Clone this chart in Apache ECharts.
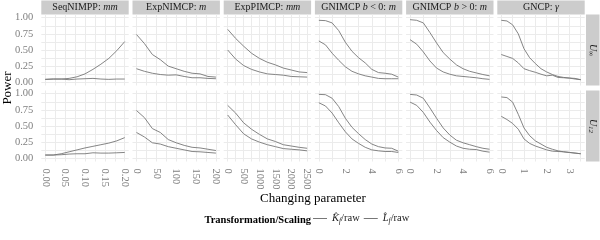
<!DOCTYPE html>
<html><head><meta charset="utf-8">
<script src="https://cdn.jsdelivr.net/npm/echarts@6/dist/echarts.min.js"></script>
<style>html,body{margin:0;padding:0;background:#fff}#c{width:600px;height:240px}</style>
</head><body><div id="c"></div>
<script>
// ---------- data ----------
const colTitles = ['{n|SeqNIMPP: }{i|mm}', '{n|ExpNIMCP: }{i|m}', '{n|ExpPIMCP: }{i|mm}',
  '{n|GNIMCP }{i|b}{n| < 0: }{i|m}', '{n|GNIMCP }{i|b}{n| > 0: }{i|m}', '{n|GNCP: }{i|γ}'];
const rowTitles = ['{i|U}{s|∞}', '{i|U}{s|12}'];
const seriesNames = ['K', 'L'];

// x values per column
const xSeqNIMPP = [0, 0.02, 0.04, 0.06, 0.08, 0.10, 0.12, 0.14, 0.16, 0.18, 0.20];
const xExpNIMCP = [0, 20, 40, 60, 80, 100, 120, 140, 160, 180, 200];
const xExpPIMCP = [0, 250, 500, 750, 1000, 1250, 1500, 1750, 2000, 2250, 2500];
const xGNIMCPneg = [0, 0.5, 1, 1.5, 2, 2.5, 3, 3.5, 4, 4.5, 5, 5.5, 6];
const xGNIMCPpos = [0, 0.5, 1, 1.5, 2, 2.5, 3, 3.5, 4, 4.5, 5, 5.5, 6];
const xGNCP = [0, 0.25, 0.5, 0.75, 1, 1.25, 1.5, 1.75, 2, 2.25, 2.5, 2.75, 3, 3.25, 3.5];

// power values: row U_inf
const seqNIMPP_Uinf_K = [0.045, 0.05, 0.05, 0.06, 0.085, 0.13, 0.20, 0.28, 0.37, 0.49, 0.63];
const seqNIMPP_Uinf_L = [0.045, 0.05, 0.05, 0.04, 0.05, 0.055, 0.06, 0.05, 0.045, 0.05, 0.05];
const expNIMCP_Uinf_K = [0.74, 0.60, 0.43, 0.35, 0.25, 0.21, 0.17, 0.14, 0.13, 0.09, 0.08];
const expNIMCP_Uinf_L = [0.21, 0.17, 0.14, 0.12, 0.11, 0.115, 0.09, 0.07, 0.07, 0.06, 0.055];
const expPIMCP_Uinf_K = [0.82, 0.68, 0.56, 0.45, 0.37, 0.31, 0.27, 0.22, 0.19, 0.16, 0.15];
const expPIMCP_Uinf_L = [0.50, 0.36, 0.26, 0.20, 0.16, 0.13, 0.12, 0.11, 0.09, 0.085, 0.08];
const gnimcpNeg_Uinf_K = [0.96, 0.955, 0.92, 0.80, 0.62, 0.48, 0.38, 0.30, 0.20, 0.15, 0.14, 0.125, 0.08];
const gnimcpNeg_Uinf_L = [0.64, 0.58, 0.45, 0.34, 0.24, 0.17, 0.13, 0.10, 0.08, 0.06, 0.055, 0.055, 0.055];
const gnimcpPos_Uinf_K = [0.97, 0.96, 0.92, 0.77, 0.61, 0.46, 0.36, 0.27, 0.21, 0.17, 0.145, 0.12, 0.10];
const gnimcpPos_Uinf_L = [0.66, 0.59, 0.47, 0.33, 0.22, 0.16, 0.125, 0.10, 0.09, 0.08, 0.07, 0.055, 0.045];
const gncp_Uinf_K = [0.96, 0.95, 0.89, 0.75, 0.52, 0.38, 0.29, 0.21, 0.16, 0.12, 0.09, 0.075, 0.065, 0.05, 0.04];
const gncp_Uinf_L = [0.43, 0.40, 0.37, 0.30, 0.21, 0.18, 0.155, 0.125, 0.10, 0.11, 0.075, 0.07, 0.065, 0.06, 0.04];

// power values: row U_12
const seqNIMPP_U12_K = [0.05, 0.05, 0.07, 0.10, 0.13, 0.16, 0.185, 0.21, 0.235, 0.27, 0.32];
const seqNIMPP_U12_L = [0.05, 0.05, 0.055, 0.065, 0.07, 0.07, 0.085, 0.08, 0.08, 0.085, 0.09];
const expNIMCP_U12_K = [0.74, 0.63, 0.46, 0.40, 0.29, 0.24, 0.20, 0.17, 0.16, 0.14, 0.12];
const expNIMCP_U12_L = [0.40, 0.33, 0.24, 0.22, 0.18, 0.155, 0.13, 0.105, 0.10, 0.09, 0.08];
const expPIMCP_U12_K = [0.82, 0.70, 0.55, 0.45, 0.37, 0.30, 0.26, 0.21, 0.19, 0.17, 0.155];
const expPIMCP_U12_L = [0.67, 0.52, 0.38, 0.30, 0.25, 0.21, 0.18, 0.15, 0.14, 0.13, 0.115];
const gnimcpNeg_U12_K = [0.99, 0.985, 0.93, 0.80, 0.62, 0.48, 0.38, 0.29, 0.22, 0.18, 0.16, 0.155, 0.11];
const gnimcpNeg_U12_L = [0.86, 0.81, 0.70, 0.55, 0.41, 0.30, 0.23, 0.17, 0.13, 0.115, 0.105, 0.105, 0.09];
const gnimcpPos_U12_K = [0.99, 0.98, 0.93, 0.78, 0.62, 0.47, 0.36, 0.28, 0.24, 0.21, 0.18, 0.155, 0.14];
const gnimcpPos_U12_L = [0.87, 0.82, 0.71, 0.56, 0.43, 0.32, 0.25, 0.19, 0.155, 0.14, 0.135, 0.11, 0.095];
const gncp_U12_K = [0.95, 0.94, 0.87, 0.68, 0.47, 0.35, 0.27, 0.22, 0.17, 0.14, 0.115, 0.10, 0.09, 0.08, 0.07];
const gncp_U12_L = [0.65, 0.60, 0.54, 0.45, 0.30, 0.23, 0.19, 0.16, 0.13, 0.11, 0.105, 0.10, 0.09, 0.08, 0.07];

// tick labels
const ticksSeqNIMPP = [0, 0.05, 0.10, 0.15, 0.20];
const ticksExpNIMCP = [0, 50, 100, 150, 200];
const ticksExpPIMCP = [0, 500, 1000, 1500, 2000, 2500];
const ticksGNIMCP = [0, 2, 4, 6];
const ticksGNCP = [0, 1, 2, 3];
const ticksPower = [0, 0.25, 0.5, 0.75, 1];
const minorSeqNIMPP = [0.025, 0.075, 0.125, 0.175];
const minorExpNIMCP = [25, 75, 125, 175];
const minorExpPIMCP = [250, 750, 1250, 1750, 2250];
const minorGNIMCP = [1, 3, 5];
const minorGNCP = [0.5, 1.5, 2.5, 3.5];
const minorPower = [0.125, 0.375, 0.625, 0.875];

// ---------- build ----------
const FF = 'Liberation Serif';
const cols = [
  {x: xSeqNIMPP, v: [[seqNIMPP_Uinf_K, seqNIMPP_Uinf_L], [seqNIMPP_U12_K, seqNIMPP_U12_L]], t: ticksSeqNIMPP, m: minorSeqNIMPP, dec: 2},
  {x: xExpNIMCP, v: [[expNIMCP_Uinf_K, expNIMCP_Uinf_L], [expNIMCP_U12_K, expNIMCP_U12_L]], t: ticksExpNIMCP, m: minorExpNIMCP, dec: 0},
  {x: xExpPIMCP, v: [[expPIMCP_Uinf_K, expPIMCP_Uinf_L], [expPIMCP_U12_K, expPIMCP_U12_L]], t: ticksExpPIMCP, m: minorExpPIMCP, dec: 0},
  {x: xGNIMCPneg, v: [[gnimcpNeg_Uinf_K, gnimcpNeg_Uinf_L], [gnimcpNeg_U12_K, gnimcpNeg_U12_L]], t: ticksGNIMCP, m: minorGNIMCP, dec: 0},
  {x: xGNIMCPpos, v: [[gnimcpPos_Uinf_K, gnimcpPos_Uinf_L], [gnimcpPos_U12_K, gnimcpPos_U12_L]], t: ticksGNIMCP, m: minorGNIMCP, dec: 0},
  {x: xGNCP, v: [[gncp_Uinf_K, gncp_Uinf_L], [gncp_U12_K, gncp_U12_L]], t: ticksGNCP, m: minorGNCP, dec: 0}
];
const L0 = 41.3, G = 91.2, W = 87.4, H = 71, rowTop = [14.5, 90.5];
const lineColor = '#777777';
const gridLine = '#ebebeb';
const grid = [], xAxis = [], yAxis = [], series = [], graphic = [];

cols.forEach((c, ci) => {
  const lo = c.x[0], hi = c.x[c.x.length - 1], pad = (hi - lo) * 0.05;
  [0, 1].forEach(ri => {
    const gi = grid.length;
    grid.push({left: L0 + G * ci, top: rowTop[ri], width: W, height: H});
    xAxis.push({
      type: 'value', gridIndex: gi, min: lo - pad, max: hi + pad,
      axisLine: {show: false},
      axisTick: {show: false, customValues: c.t.concat(c.m)},
      splitLine: {show: true, lineStyle: {color: gridLine, width: 1}},
      axisLabel: {show: ri === 1, customValues: c.t, rotate: -90, margin: 7,
        fontFamily: FF, fontSize: 10.5, color: '#7f7f7f',
        formatter: v => Number(v).toFixed(c.dec)}
    });
    yAxis.push({
      type: 'value', gridIndex: gi, min: -0.05, max: 1.05,
      axisLine: {show: false},
      axisTick: {show: false, customValues: ticksPower.concat(minorPower)},
      splitLine: {show: true, lineStyle: {color: gridLine, width: 1}},
      axisLabel: {show: ci === 0, customValues: ticksPower, margin: 8,
        fontFamily: FF, fontSize: 10.5, color: '#7f7f7f',
        formatter: v => Number(v).toFixed(2)}
    });
    [0, 1].forEach(si => {
      series.push({
        type: 'line', name: seriesNames[si], xAxisIndex: gi, yAxisIndex: gi,
        data: c.x.map((x, k) => [x, c.v[ri][si][k]]),
        symbol: 'none', silent: true,
        lineStyle: {color: lineColor, width: 0.9},
        itemStyle: {color: lineColor}
      });
    });
  });
  // column strip
  graphic.push({type: 'rect', shape: {x: L0 + G * ci, y: 0.5, width: W, height: 14}, style: {fill: '#cccccc'}, silent: true});
  graphic.push({type: 'text', x: L0 + G * ci + W / 2, y: 7.8, silent: true,
    style: {text: colTitles[ci], align: 'center', verticalAlign: 'middle', fill: '#1a1a1a',
      font: '10px "' + FF + '"',
      rich: {n: {fontFamily: FF, fontSize: 10, fill: '#1a1a1a'}, i: {fontFamily: FF, fontSize: 10, fontStyle: 'italic', fill: '#1a1a1a'}}}});
});
// row strips
rowTop.forEach((t, ri) => {
  graphic.push({type: 'rect', shape: {x: 586, y: t, width: 13.5, height: H}, style: {fill: '#cccccc'}, silent: true});
  graphic.push({type: 'text', x: 592.8, y: t + H / 2, rotation: -Math.PI / 2, silent: true,
    style: {text: rowTitles[ri], align: 'center', verticalAlign: 'middle', fill: '#1a1a1a',
      rich: {i: {fontFamily: FF, fontSize: 10, fontStyle: 'italic', fill: '#1a1a1a'},
             s: {fontFamily: FF, fontSize: 7, fontStyle: 'italic', fill: '#1a1a1a', padding: [4, 0, 0, 0]}}}});
});
// axis titles & legend title
graphic.push({type: 'text', x: 313, y: 199, silent: true,
  style: {text: 'Changing parameter', align: 'center', verticalAlign: 'middle', fill: '#000', font: '13px "' + FF + '"'}});
graphic.push({type: 'text', x: 8, y: 88, rotation: Math.PI / 2, silent: true,
  style: {text: 'Power', align: 'center', verticalAlign: 'middle', fill: '#000', font: '13px "' + FF + '"'}});
graphic.push({type: 'text', x: 311, y: 220.5, silent: true,
  style: {text: 'Transformation/Scaling', align: 'right', verticalAlign: 'middle', fill: '#000', font: 'bold 10.5px "' + FF + '"'}});

const chart = echarts.init(document.getElementById('c'), null, {renderer: 'canvas'});
chart.setOption({
  animation: false,
  backgroundColor: '#ffffff',
  grid, xAxis, yAxis, series, graphic,
  legend: {
    left: 313, top: 213, icon: 'rect', itemWidth: 14, itemHeight: 1, itemGap: 4, padding: 0,
    selectedMode: false, data: seriesNames,
    itemStyle: {color: lineColor},
    formatter: n => n === 'K' ? '{i|K\u0302}{s|f}{r|/raw}' : '{i|L\u0302}{s|f}{r|/raw}',
    textStyle: {fontFamily: FF, fontSize: 10.5, color: '#1a1a1a',
      rich: {i: {fontFamily: FF, fontSize: 10.5, fontStyle: 'italic', color: '#1a1a1a'},
             s: {fontFamily: FF, fontSize: 7.5, fontStyle: 'italic', color: '#1a1a1a', padding: [5, 0, 0, 0]},
             r: {fontFamily: FF, fontSize: 10.5, color: '#1a1a1a'}}}
  }
});
</script></body></html>
